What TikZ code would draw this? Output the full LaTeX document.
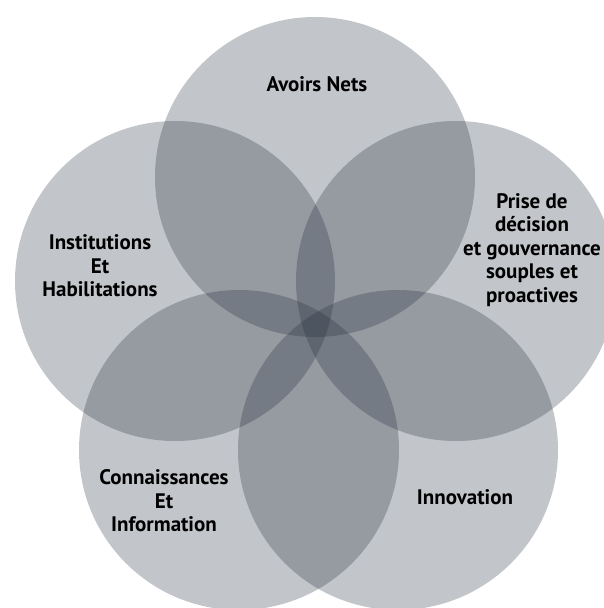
\documentclass[tikz,border=0pt]{standalone}
\usepackage{fontspec}
\setmainfont{PT Sans}
\usetikzlibrary{positioning}
\definecolor{petal}{RGB}{30,40,55}

\begin{document}
\begin{tikzpicture}[x=1pt,y=-1pt,inner sep=0mm,
  petaltext/.style={align=center,font=\bfseries\fontsize{21}{23.6}\selectfont}]
\useasboundingbox (0,0) rectangle (604,608);
% five overlapping circles
\fill[petal,fill opacity=0.27] (315,177) circle (160pt);
\fill[petal,fill opacity=0.27] (175,281) circle (160pt);
\fill[petal,fill opacity=0.27] (456,281) circle (160pt);
\fill[petal,fill opacity=0.27] (239,450) circle (160pt);
\fill[petal,fill opacity=0.27] (398,450) circle (160pt);
% labels
\node[petaltext] (avoirs) at (317,84) {Avoirs Nets};
\node[petaltext] (institutions) at (100,266) {Institutions\\Et\\Habilitations};
\node[petaltext] (decision) at (532,250) {Prise de\\décision\\et gouvernance\\souples et\\proactives};
\node[petaltext] (connaissances) at (164,501) {Connaissances\\Et\\Information};
\node[petaltext] (innovation) at (465,497) {Innovation};
\end{tikzpicture}
\end{document}
